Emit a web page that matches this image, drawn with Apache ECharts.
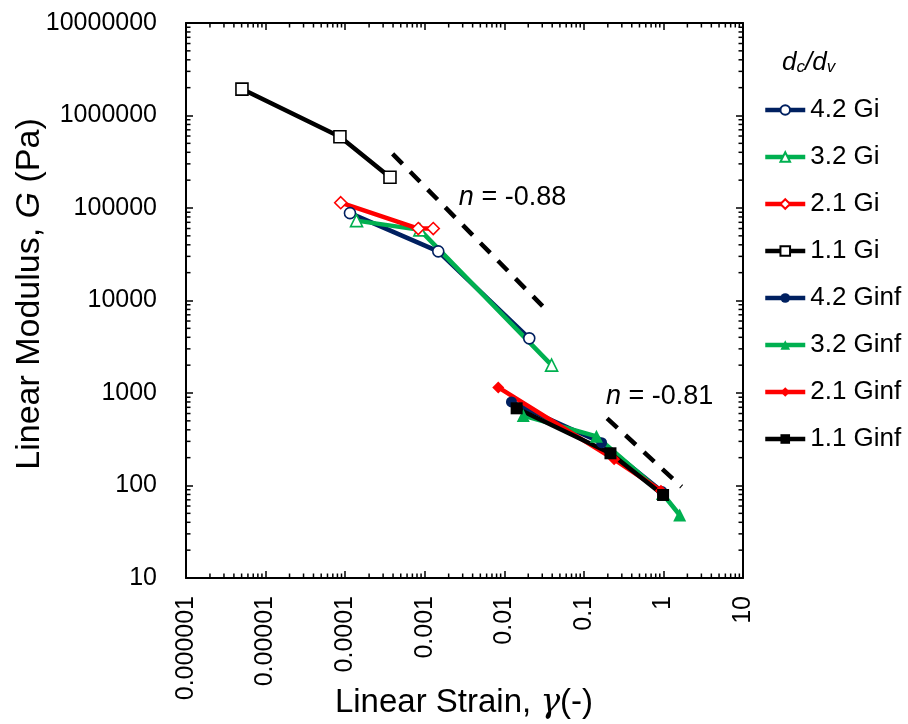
<!DOCTYPE html>
<html>
<head>
<meta charset="utf-8">
<script src="https://cdn.jsdelivr.net/npm/echarts@6/dist/echarts.min.js"></script>
<style>html,body{margin:0;padding:0;background:#fff}#c{width:908px;height:724px}</style>
</head>
<body>
<div id="c"></div>
<script>
// ---- data ----
const xTickLabels = ['0.000001','0.00001','0.0001','0.001','0.01','0.1','1','10'];
const yTickLabels = ['10','100','1000','10000','100000','1000000','10000000'];
const xDecades = [0.000001,0.00001,0.0001,0.001,0.01,0.1,1];
const yDecades = [10,100,1000,10000,100000,1000000];
const minorMultipliers = [2,3,4,5,6,7,8,9];

const gi42 = [[0.000115, 88000],[0.00148, 34000],[0.0206, 3900]];
const gi32 = [[0.000139, 73000],[0.00087, 58000],[0.0393, 2000]];
const gi21 = [[0.000088, 114000],[0.00083, 60000],[0.00128, 60000]];
const gi11 = [[0.00000505, 1930000],[0.000086, 590000],[0.000366, 215000]];
const ginf42 = [[0.0123, 800],[0.167, 290],[0.96, 86]];
const ginf32 = [[0.0173, 570],[0.144, 340],[0.97, 82],[1.6, 48]];
const ginf21 = [[0.0084, 1150],[0.24, 192],[0.93, 88]];
const ginf11 = [[0.0143, 683],[0.216, 223],[0.99, 79]];
const trend088 = [[0.000395, 384000],[0.0303, 8700]];
const trend081 = [[0.196, 532],[1.69, 97]];
const annotations = [
  {value:[0.00261, 131000], text:'-0.88'},
  {value:[0.184, 906], text:'-0.81'}
];
const seriesNames = ['4.2 Gi','3.2 Gi','2.1 Gi','1.1 Gi','4.2 Ginf','3.2 Ginf','2.1 Ginf','1.1 Ginf'];

// ---- styling ----
const FONT = '"Liberation Sans", Arial, sans-serif';
const NAVY = '#002060', GREEN = '#00B050', RED = '#FF0000', BLACK = '#000000';

const xMinor = [];
xDecades.forEach(d => minorMultipliers.forEach(m => xMinor.push([d*m, 10])));
const yMinor = [];
yDecades.forEach(d => minorMultipliers.forEach(m => yMinor.push([0.000001, d*m])));

function openSeries(name, data, color, symbol, size){
  return {name, type:'line', data, symbol, symbolSize:size, showSymbol:true,
    lineStyle:{color, width:4.5}, itemStyle:{color:'#ffffff', borderColor:color, borderWidth:1.6},
    z:3, animation:false};
}
function filledSeries(name, data, color, symbol, size){
  return {name, type:'line', data, symbol, symbolSize:size, showSymbol:true,
    lineStyle:{color, width:4.5}, itemStyle:{color, borderColor:color, borderWidth:0},
    z:3, animation:false};
}
function trend(data){
  return {type:'line', data, symbol:'none', silent:true,
    lineStyle:{color:BLACK, width:4.5, type:[14,11]}, z:2, animation:false};
}

const axisCommon = {
  type:'log', logBase:10,
  axisLine:{show:true, onZero:false, lineStyle:{color:BLACK, width:2}},
  axisTick:{show:true, inside:true, length:7, lineStyle:{color:BLACK, width:1.5}},
  splitLine:{show:false}, minorTick:{show:false}, minorSplitLine:{show:false}
};

const chart = echarts.init(document.getElementById('c'), null, {renderer:'canvas'});
chart.setOption({
  animation:false,
  backgroundColor:'#ffffff',
  grid:{left:186, top:23, right:165, bottom:146, containLabel:false},
  xAxis:[
    Object.assign({}, axisCommon, {min:0.000001, max:10, interval:1, position:'bottom',
      axisLabel:{show:true, rotate:90, margin:18, fontSize:25, color:BLACK, fontFamily:FONT,
        formatter:v => xTickLabels[Math.round(Math.log10(v))+6]}}),
    Object.assign({}, axisCommon, {min:0.000001, max:10, interval:1, position:'top',
      axisLabel:{show:false}})
  ],
  yAxis:[
    Object.assign({}, axisCommon, {min:10, max:10000000, interval:1, position:'left',
      axisLabel:{show:true, margin:29, fontSize:25, color:BLACK, fontFamily:FONT,
        formatter:v => yTickLabels[Math.round(Math.log10(v))-1]}}),
    Object.assign({}, axisCommon, {min:10, max:10000000, interval:1, position:'right',
      axisLabel:{show:false}})
  ],
  legend:{
    data:seriesNames, orient:'vertical', left:763, top:97,
    itemWidth:40, itemHeight:12, itemGap:21, padding:0,
    lineStyle:{width:4.5},
    textStyle:{fontSize:26, lineHeight:26, color:BLACK, fontFamily:FONT}
  },
  graphic:[
    {type:'text', left:782, top:50, style:{
      text:'{d|d}{s|c}{d|/d}{s|v}', fill:BLACK,
      rich:{d:{fontSize:26, fontStyle:'italic', fontFamily:FONT, lineHeight:30, verticalAlign:'bottom'},
            s:{fontSize:17, fontStyle:'italic', fontFamily:FONT, lineHeight:17, verticalAlign:'bottom'}}
    }},
    {type:'text', x:30, y:294, rotation:Math.PI/2, style:{
      text:'Linear Modulus, {i|G} (Pa)', fill:BLACK, fontSize:34, fontFamily:FONT,
      align:'center', verticalAlign:'middle',
      rich:{i:{fontSize:34, fontStyle:'italic', fontFamily:FONT}}
    }},
    {type:'text', x:464, y:703, style:{
      text:'Linear Strain, {i|γ}(-)', fill:BLACK, fontSize:33, fontFamily:FONT,
      align:'center', verticalAlign:'middle',
      rich:{i:{fontSize:33, fontStyle:'italic', fontFamily:'"DejaVu Serif", serif'}}
    }}
  ],
  series:[
    openSeries('4.2 Gi', gi42, NAVY, 'circle', 11),
    openSeries('3.2 Gi', gi32, GREEN, 'triangle', 12),
    openSeries('2.1 Gi', gi21, RED, 'diamond', 12),
    openSeries('1.1 Gi', gi11, BLACK, 'rect', 12),
    filledSeries('4.2 Ginf', ginf42, NAVY, 'circle', 11),
    filledSeries('3.2 Ginf', ginf32, GREEN, 'triangle', 13),
    filledSeries('2.1 Ginf', ginf21, RED, 'diamond', 12),
    filledSeries('1.1 Ginf', ginf11, BLACK, 'rect', 12),
    trend(trend088),
    trend(trend081),
    {type:'scatter', data:annotations.map(a => ({value:a.value, text:a.text})),
      symbol:'circle', symbolSize:2, itemStyle:{opacity:0}, silent:true, animation:false, z:5,
      label:{show:true, position:'right', distance:0, opacity:1,
        formatter:p => '{i|n} = ' + p.data.text,
        fontSize:27, color:BLACK, fontFamily:FONT,
        rich:{i:{fontSize:27, fontStyle:'italic', fontFamily:FONT, color:BLACK}}}},
    {type:'custom', data:xMinor, clip:false, silent:true, animation:false, z:1,
      renderItem:(params, api) => {
        const cs = params.coordSys;
        const p = api.coord([api.value(0), api.value(1)]);
        const st = {stroke:BLACK, lineWidth:1.5};
        return {type:'group', children:[
          {type:'line', shape:{x1:p[0], y1:cs.y+cs.height, x2:p[0], y2:cs.y+cs.height-4.5}, style:st},
          {type:'line', shape:{x1:p[0], y1:cs.y, x2:p[0], y2:cs.y+4.5}, style:st}
        ]};
      }},
    {type:'custom', data:yMinor, clip:false, silent:true, animation:false, z:1,
      renderItem:(params, api) => {
        const cs = params.coordSys;
        const p = api.coord([api.value(0), api.value(1)]);
        const st = {stroke:BLACK, lineWidth:1.5};
        return {type:'group', children:[
          {type:'line', shape:{x1:cs.x, y1:p[1], x2:cs.x+4.5, y2:p[1]}, style:st},
          {type:'line', shape:{x1:cs.x+cs.width, y1:p[1], x2:cs.x+cs.width-4.5, y2:p[1]}, style:st}
        ]};
      }}
  ]
});
</script>
</body>
</html>
